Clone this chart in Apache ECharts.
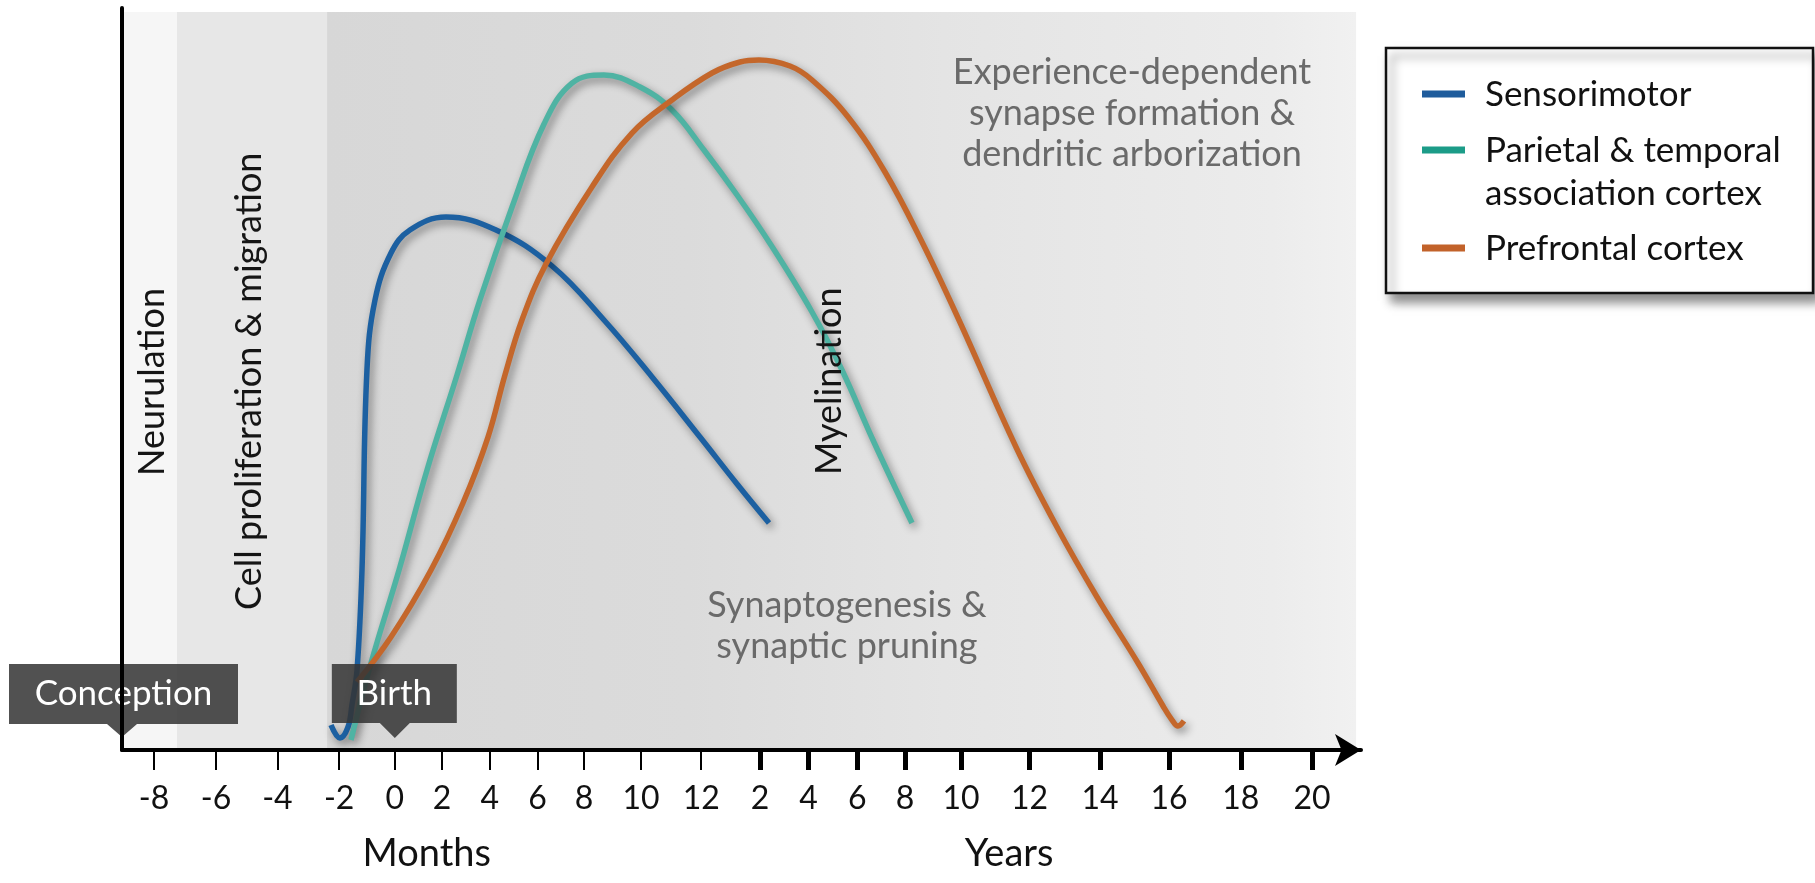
<!DOCTYPE html>
<html><head><meta charset="utf-8">
<script src="https://cdn.jsdelivr.net/npm/echarts@6/dist/echarts.min.js"></script>
<style>html,body{margin:0;padding:0;background:#fff}#c{width:1815px;height:883px}</style>
</head><body><div id="c"></div>
<script>
const FONT = 'Lato';

// Series
const SERIES_NAMES = ['Sensorimotor', 'Parietal & temporal\nassociation cortex', 'Prefrontal cortex'];
const LINE_COLORS = ['#1c60a1', '#4fb3a3', '#c4672b'];
const SWATCH_COLORS = ['#1f5c9c', '#1c9c88', '#c2622a'];

// X axis: positions along the (hand-drawn, non-linear) time axis, in % of axis length
const MONTH_LABELS = ['-8', '-6', '-4', '-2', '0', '2', '4', '6', '8', '10', '12'];
const MONTH_TICKS = [2.58, 7.59, 12.54, 17.53, 22.02, 25.83, 29.68, 33.53, 37.30, 41.89, 46.75];
const YEAR_LABELS = ['2', '4', '6', '8', '10', '12', '14', '16', '18', '20'];
const YEAR_TICKS = [51.49, 55.40, 59.35, 63.20, 67.72, 73.24, 78.93, 84.51, 90.30, 96.05];
const AXIS_TITLES = ['Months', 'Years'];
const AXIS_TITLE_X = [24.6, 71.6];

// Curves [x (% of axis), y (% of height)]
const SENSORIMOTOR = [
  [16.87, 3.37], [17.59, 1.62], [18.24, 3.10], [18.56, 6.06], [18.97, 10.78], [19.37, 24.26],
  [19.77, 51.21], [20.42, 60.65], [21.71, 66.98], [23.24, 70.08], [26.15, 71.83], [30.19, 70.08],
  [34.71, 65.23], [38.90, 57.95], [42.78, 50.27], [46.65, 42.18], [49.64, 35.85], [52.22, 30.59]
];
const PARIETAL_TEMPORAL = [
  [18.48, 1.35], [20.10, 11.73], [22.36, 24.26], [24.62, 37.74], [27.04, 50.54], [28.89, 60.65],
  [31.48, 73.18], [34.06, 84.37], [36.32, 89.89], [38.90, 90.97], [41.81, 89.35], [44.39, 86.25],
  [46.97, 80.86], [49.64, 74.80], [52.38, 68.06], [55.69, 59.03], [58.11, 51.21], [60.61, 41.78],
  [63.76, 30.59]
];
const PREFRONTAL = [
  [18.97, 9.16], [21.71, 15.23], [24.94, 24.26], [27.52, 33.29], [29.54, 42.18], [30.91, 50.54],
  [32.28, 57.95], [34.22, 65.50], [37.93, 75.88], [41.16, 83.15], [44.39, 87.60], [47.62, 91.24],
  [49.88, 92.72], [51.41, 92.99], [53.91, 92.18], [55.69, 90.30], [58.60, 85.31], [61.58, 77.90],
  [64.57, 68.46], [67.55, 57.95], [72.15, 40.84], [75.46, 30.05], [78.69, 20.62],
  [82.00, 11.73], [84.02, 5.93], [84.75, 4.04], [85.23, 3.23], [85.71, 3.91]
];

// Background phases [from, to] along x
const BAND_RANGES = [[0, 4.44], [4.44, 16.55], [16.55, 99.6]];
const BAND_TOP = 99.46;

// Text annotations [x, y] in data units
const PHASE_LABELS = ['Neurulation', 'Cell proliferation & migration', 'Myelination'];
const PHASE_LABEL_POS = [[2.42, 49.6], [10.25, 49.7], [57.06, 49.7]];
const REGION_TEXTS = ['Experience-dependent\nsynapse formation &\ndendritic arborization', 'Synaptogenesis &\nsynaptic pruning'];
const REGION_TEXT_POS = [[81.52, 85.85], [58.51, 16.71]];
const EVENTS = ['Conception', 'Birth'];
const EVENT_POS = [[0, 1.75], [22.02, 1.62]];

const chart = echarts.init(document.getElementById('c'), null, { renderer: 'canvas', width: 1815, height: 883 });

const labelFor = (ticks, labels) => v => {
  const i = ticks.findIndex(t => Math.abs(t - v) < 1e-6);
  return i >= 0 ? labels[i] : '';
};
const gridBox = { left: 122, right: 454, top: 8, bottom: 133 };
const axisBase = { type: 'value', min: 0, max: 100, splitLine: { show: false }, z: 10 };
const tickLabelStyle = { fontSize: 32, fontFamily: FONT, color: '#111', margin: 33 };

const lineSeries = (name, data, color, extra) => Object.assign({
  name, type: 'line', data, xAxisIndex: 0, yAxisIndex: 0, smooth: 0.4,
  symbol: 'none', showSymbol: false, z: 3,
  lineStyle: { color, width: 5.5, shadowColor: 'rgba(0,0,0,0.45)', shadowBlur: 8, shadowOffsetX: 3, shadowOffsetY: 4 }
}, extra || {});

const option = {
  animation: false,
  backgroundColor: '#ffffff',
  grid: [Object.assign({}, gridBox), Object.assign({}, gridBox)],
  xAxis: [
    Object.assign({}, axisBase, {
      gridIndex: 0, position: 'bottom',
      axisLine: { show: true, lineStyle: { color: '#000', width: 4 }, symbol: ['none', 'arrow'], symbolSize: [24, 26] },
      axisTick: { show: true, customValues: MONTH_TICKS, length: 20, lineStyle: { color: '#000', width: 2 } },
      axisLabel: Object.assign({ show: true, customValues: MONTH_TICKS, formatter: labelFor(MONTH_TICKS, MONTH_LABELS) }, tickLabelStyle)
    }),
    Object.assign({}, axisBase, {
      gridIndex: 1, position: 'bottom',
      axisLine: { show: false },
      axisTick: { show: true, customValues: YEAR_TICKS, length: 20, lineStyle: { color: '#000', width: 5 } },
      axisLabel: Object.assign({ show: true, customValues: YEAR_TICKS, formatter: labelFor(YEAR_TICKS, YEAR_LABELS) }, tickLabelStyle)
    })
  ],
  yAxis: [
    Object.assign({}, axisBase, {
      gridIndex: 0,
      axisLine: { show: true, lineStyle: { color: '#000', width: 4 } },
      axisTick: { show: false }, axisLabel: { show: false }
    }),
    Object.assign({}, axisBase, { gridIndex: 1, show: false })
  ],
  series: [
    lineSeries(SERIES_NAMES[0], SENSORIMOTOR, LINE_COLORS[0], {
      markArea: {
        silent: true,
        data: [
          [{ xAxis: BAND_RANGES[0][0], yAxis: 0, itemStyle: { color: '#f6f6f6' } }, { xAxis: BAND_RANGES[0][1], yAxis: BAND_TOP }],
          [{ xAxis: BAND_RANGES[1][0], yAxis: 0, itemStyle: { color: '#e7e7e7' } }, { xAxis: BAND_RANGES[1][1], yAxis: BAND_TOP }],
          [{ xAxis: BAND_RANGES[2][0], yAxis: 0, itemStyle: { color: new echarts.graphic.LinearGradient(0, 0, 1, 0, [
            { offset: 0, color: '#d7d7d7' }, { offset: 0.35, color: '#dbdbdb' },
            { offset: 0.6, color: '#e4e4e4' }, { offset: 0.92, color: '#ececec' }, { offset: 1, color: '#f1f1f1' }]) } },
           { xAxis: BAND_RANGES[2][1], yAxis: BAND_TOP }]
        ]
      }
    }),
    lineSeries(SERIES_NAMES[1], PARIETAL_TEMPORAL, LINE_COLORS[1]),
    lineSeries(SERIES_NAMES[2], PREFRONTAL, LINE_COLORS[2])
  ]
};
chart.setOption(option);

const toPx = p => chart.convertToPixel({ gridIndex: 0 }, p);
const graphics = [];

// rotated phase labels
PHASE_LABELS.forEach((t, i) => {
  const [x, y] = toPx(PHASE_LABEL_POS[i]);
  graphics.push({ type: 'text', x, y, rotation: Math.PI / 2, z: 6,
    style: { text: t, font: `36px ${FONT}`, fill: '#151515', align: 'center', verticalAlign: 'middle' } });
});
// grey region texts
REGION_TEXTS.forEach((t, i) => {
  const [x, y] = toPx(REGION_TEXT_POS[i]);
  graphics.push({ type: 'text', x, y, z: 6,
    style: { text: t, font: `36px ${FONT}`, fill: '#6a6a6a', align: 'center', verticalAlign: 'middle', lineHeight: 41 } });
});
// event callouts
const CALLOUT_BOX = [[113, 116, 73, 13], [63, 62, 74, 15]]; // left, right, top, pointer height (px from tip)
EVENTS.forEach((t, i) => {
  const [tx, ty] = toPx(EVENT_POS[i]);
  const [l, r, top, ph] = CALLOUT_BOX[i];
  const pts = [[tx - l, ty - top], [tx + r, ty - top], [tx + r, ty - ph], [tx + 15, ty - ph], [tx, ty],
               [tx - 15, ty - ph], [tx - l, ty - ph]];
  graphics.push({ type: 'polygon', z: 8, shape: { points: pts }, style: { fill: 'rgba(52,52,52,0.86)' } });
  graphics.push({ type: 'text', z: 9, x: tx + (r - l) / 2, y: ty - (top + ph) / 2,
    style: { text: t, font: `35px ${FONT}`, fill: '#ffffff', align: 'center', verticalAlign: 'middle' } });
});
// axis titles
const axisY = toPx([0, 0])[1];
AXIS_TITLES.forEach((t, i) => {
  const x = toPx([AXIS_TITLE_X[i], 0])[0];
  graphics.push({ type: 'text', x, y: axisY + 104, z: 6,
    style: { text: t, font: `38px ${FONT}`, fill: '#111', align: 'center', verticalAlign: 'middle' } });
});
// legend box
const LEG = { x: 1386, y: 48, w: 427, h: 245 };
graphics.push({ type: 'rect', z: 20, shape: { x: LEG.x, y: LEG.y, width: LEG.w, height: LEG.h },
  style: { fill: '#fff', stroke: '#111', lineWidth: 2.5, shadowBlur: 10, shadowOffsetX: 6, shadowOffsetY: 8, shadowColor: 'rgba(0,0,0,0.45)' } });
const LEG_ROW_Y = [94, 150, 248];
SERIES_NAMES.forEach((n, i) => {
  const cy = LEG_ROW_Y[i];
  graphics.push({ type: 'rect', z: 21, shape: { x: 1422, y: cy - 3.5, width: 43, height: 7 }, style: { fill: SWATCH_COLORS[i] } });
  graphics.push({ type: 'text', z: 21, x: 1485, y: cy - 21,
    style: { text: n, font: `35px ${FONT}`, fill: '#111', align: 'left', verticalAlign: 'top', lineHeight: 43 } });
});
chart.setOption({ graphic: { elements: graphics } });
</script>
</body></html>
